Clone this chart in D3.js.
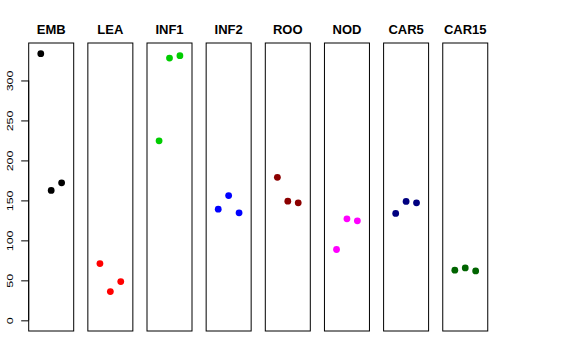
<!DOCTYPE html>
<html><head><meta charset="utf-8">
<script src="https://cdn.jsdelivr.net/npm/d3@7"></script>
<style>body{margin:0;background:#fff}svg{display:block}</style>
</head><body>
<script>
const categories = ["EMB","LEA","INF1","INF2","ROO","NOD","CAR5","CAR15"];
const colors = ["#000000","#FF0000","#00CD00","#0000FF","#8B0000","#FF00FF","#000080","#006400"];
const values = [
  [333.5, 162.5, 172],
  [71, 36, 48.5],
  [224.5, 328, 331],
  [139, 156, 134.5],
  [178.8, 149, 147],
  [88.6, 127, 124.5],
  [133.7, 148.7, 147],
  [62.7, 65.5, 61.8]
];
const yTicks = [0, 50, 100, 150, 200, 250, 300];

(function () {
const W = 576, H = 360;
const svg = d3.select("body").append("svg").attr("width", W).attr("height", H);
const pTop = 43, pBottom = 331, panelW = 45, x0 = 28.7, step = 59.15;
const ymax = d3.max(values.flat());
const pad = ymax * 0.04;
const y = d3.scaleLinear().domain([-pad, ymax + pad]).range([pBottom, pTop]);

categories.forEach((c, i) => {
  const left = x0 + i * step;
  const x = d3.scaleLinear().domain([-0.16, 4.16]).range([left, left + panelW]);
  const g = svg.append("g");
  g.append("rect").attr("x", left).attr("y", pTop).attr("width", panelW).attr("height", pBottom - pTop)
    .attr("fill", "none").attr("stroke", "#000").attr("stroke-width", 1);
  g.append("text").attr("x", left + panelW / 2).attr("y", 34).attr("text-anchor", "middle")
    .attr("font-family", "Liberation Sans, Arial, sans-serif").attr("font-weight", "bold").attr("font-size", 13)
    .text(c);
  g.selectAll("circle").data(values[i]).join("circle")
    .attr("cx", (d, j) => x(j + 1)).attr("cy", d => y(d)).attr("r", 3.4).attr("fill", colors[i]);
  if (i === 0) {
    const ax = svg.append("g").attr("transform", `translate(${left},0)`)
      .call(d3.axisLeft(y).tickValues(yTicks).tickSize(7.5).tickPadding(0).tickFormat(d3.format("d")));
    ax.select(".domain").attr("d", `M0,${y(0)}V${y(300)}`);
    ax.selectAll(".tick text").remove();
    ax.selectAll(".tick").append("text")
      .attr("transform", "translate(-15.5,0) rotate(-90) scale(1.3,1)").attr("x", 0).attr("y", 0)
      .attr("text-anchor", "middle").attr("fill", "#000")
      .attr("font-family", "Liberation Sans, Arial, sans-serif").attr("font-size", 9.6)
      .text(d => d);
  }
});
})();
</script>
</body></html>
